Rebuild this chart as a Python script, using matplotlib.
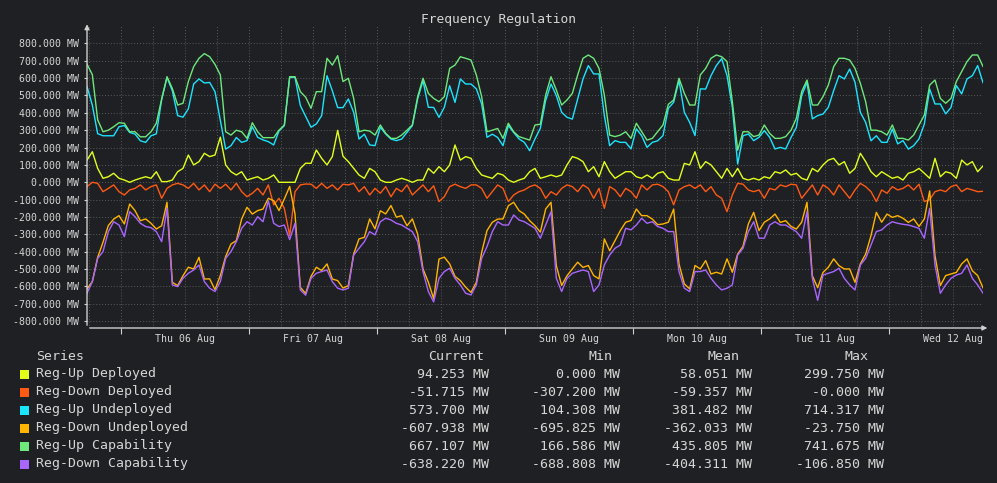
import numpy as np
import pandas as pd
import matplotlib
matplotlib.use("Agg")
import matplotlib.pyplot as plt
from matplotlib.patches import Rectangle

# hourly readings, Wed 05 Aug 17:37 -> Wed 12 Aug 17:37 (MW)
start = "2020-08-05 17:37"

reg_up_deployed = [
    128, 176, 80, 23, 32, 52, 23, 13, 0, 13,
    23, 32, 23, 61, 4, 4, 13, 61, 80, 157,
    100, 119, 167, 148, 157, 260, 100, 61, 42, 61,
    13, 23, 32, 13, 23, 42, 0, 0, 0, 0,
    80, 110, 109, 186, 138, 100, 148, 299, 150, 119,
    80, 42, 23, 80, 61, 13, 0, 0, 13, 23,
    13, 0, 13, 13, 80, 52, 90, 61, 100, 215,
    128, 148, 138, 80, 42, 32, 23, 52, 42, 13,
    0, 13, 23, 61, 80, 23, 32, 42, 32, 42,
    100, 148, 138, 119, 61, 90, 32, 119, 61, 23,
    42, 61, 61, 32, 23, 42, 23, 52, 61, 23,
    13, 13, 109, 100, 176, 80, 119, 100, 61, 23,
    80, 32, 80, 23, 13, 23, 13, 32, 23, 61,
    52, 71, 42, 52, 23, 13, 80, 61, 100, 128,
    138, 100, 119, 52, 80, 167, 119, 61, 32, 61,
    42, 23, 32, 13, 52, 61, 80, 52, 23, 138,
    32, 61, 52, 23, 128, 100, 119, 61, 94.253]

reg_down_deployed = [
    -25, -0.0, -6, -54, -35, -15, -54, -73, -44, -35,
    -15, -44, -25, -15, -92, -35, -15, -6, -15, -35,
    -6, -44, -15, -54, -11, -35, -11, -44, -6, -54,
    -83, -63, -35, -73, -15, -130, -92, -150, -307, -54,
    -15, -10, -11, -35, -6, -35, -15, -44, -11, -15,
    -6, -54, -25, -73, -35, -63, -25, -83, -35, -54,
    -15, -73, -44, -15, -54, -20, -111, -83, -25, -11,
    -25, -35, -15, -15, -35, -92, -54, -15, -35, -111,
    -73, -54, -44, -25, -15, -35, -92, -54, -73, -35,
    -15, -25, -54, -15, -35, -92, -35, -150, -25, -44,
    -83, -35, -54, -92, -15, -44, -15, -11, -25, -54,
    -130, -44, -25, -15, -35, -15, -54, -25, -73, -92,
    -169, -73, -6, -11, -44, -54, -44, -92, -35, -44,
    -15, -25, -11, -15, -92, -54, -15, -73, -15, -35,
    -73, -15, -54, -92, -44, -6, -25, -54, -111, -44,
    -63, -25, -44, -35, -15, -44, -11, -111, -100, -54,
    -44, -54, -25, -15, -54, -35, -44, -54, -51.715]

reg_up_undeployed = [
    552, 444, 280, 268, 268, 268, 320, 327, 287, 278,
    239, 230, 268, 279, 476, 604, 527, 384, 375, 423,
    566, 595, 572, 575, 522, 358, 191, 211, 258, 230,
    240, 320, 259, 244, 234, 215, 296, 326, 604, 604,
    442, 380, 317, 336, 384, 614, 527, 430, 430, 480,
    403, 249, 277, 215, 211, 317, 278, 249, 240, 249,
    287, 326, 480, 586, 432, 431, 374, 432, 556, 460,
    595, 566, 566, 538, 451, 259, 277, 258, 211, 327,
    287, 250, 230, 182, 250, 311, 471, 566, 499, 403,
    374, 364, 480, 595, 672, 624, 624, 384, 211, 240,
    230, 230, 192, 308, 268, 201, 230, 239, 269, 426,
    461, 586, 403, 345, 269, 538, 537, 614, 672, 712,
    615, 432, 105, 268, 278, 240, 259, 298, 259, 192,
    201, 192, 258, 316, 499, 576, 365, 384, 393, 432,
    528, 614, 595, 652, 576, 403, 345, 239, 268, 230,
    230, 307, 221, 240, 191, 211, 250, 335, 537, 451,
    451, 394, 431, 557, 509, 595, 614, 672, 573.7]

reg_down_undeployed = [
    -614, -572, -432, -345, -249, -212, -192, -240, -125, -163,
    -221, -211, -236, -269, -250, -115, -576, -595, -538, -489,
    -499, -432, -557, -556, -618, -537, -427, -355, -336, -211,
    -144, -183, -163, -154, -92, -106, -163, -96, -24, -182,
    -605, -640, -542, -489, -508, -470, -557, -566, -609, -595,
    -413, -326, -317, -211, -268, -164, -182, -134, -201, -192,
    -250, -211, -298, -499, -575, -670, -442, -431, -470, -542,
    -566, -604, -634, -576, -403, -278, -230, -212, -211, -135,
    -115, -163, -183, -221, -250, -287, -154, -115, -480, -594,
    -538, -499, -460, -490, -479, -537, -556, -326, -394, -336,
    -278, -230, -220, -154, -192, -192, -212, -244, -240, -230,
    -154, -470, -585, -614, -479, -499, -451, -528, -518, -528,
    -441, -518, -413, -369, -240, -173, -278, -230, -211, -183,
    -231, -221, -254, -269, -230, -115, -538, -607, -519, -489,
    -441, -480, -499, -499, -576, -470, -413, -307, -173, -230,
    -183, -202, -192, -207, -231, -211, -254, -211, -50, -422,
    -595, -537, -528, -519, -470, -441, -509, -537, -607.938]

reg_up_capability = [
    680, 620, 360, 291, 300, 320, 343, 340, 291, 291,
    262, 262, 291, 340, 480, 608, 540, 445, 455, 580,
    666, 714, 741, 723, 679, 618, 291, 272, 300, 291,
    253, 343, 291, 257, 257, 257, 300, 330, 608, 608,
    522, 490, 426, 522, 522, 714, 675, 729, 580, 599,
    483, 291, 300, 295, 272, 330, 282, 253, 253, 272,
    300, 330, 493, 599, 512, 483, 464, 493, 656, 675,
    723, 714, 704, 618, 493, 291, 300, 310, 253, 340,
    291, 263, 253, 243, 330, 334, 503, 608, 531, 445,
    474, 512, 618, 714, 733, 714, 656, 503, 272, 263,
    272, 291, 253, 340, 291, 243, 253, 291, 330, 449,
    474, 599, 512, 445, 445, 618, 656, 714, 733, 723,
    695, 464, 185, 291, 291, 263, 272, 330, 282, 253,
    253, 263, 300, 368, 522, 589, 445, 445, 493, 560,
    666, 714, 714, 704, 656, 570, 464, 300, 300, 291,
    272, 330, 253, 253, 243, 272, 330, 387, 560, 589,
    483, 455, 483, 580, 637, 695, 733, 733, 667.107]

reg_down_capability = [
    -639, -572, -438, -399, -284, -227, -246, -313, -169, -198,
    -236, -255, -261, -284, -342, -150, -591, -601, -553, -524,
    -505, -476, -572, -610, -629, -572, -438, -399, -342, -265,
    -227, -246, -198, -227, -107, -236, -255, -246, -330, -236,
    -620, -650, -553, -524, -514, -505, -572, -610, -620, -610,
    -419, -380, -342, -284, -303, -227, -207, -217, -236, -246,
    -265, -284, -342, -514, -629, -689, -553, -514, -495, -553,
    -591, -639, -649, -591, -438, -370, -284, -227, -246, -246,
    -188, -217, -227, -246, -265, -322, -246, -169, -553, -629,
    -553, -524, -514, -505, -514, -629, -591, -476, -419, -380,
    -361, -265, -274, -246, -207, -236, -227, -255, -265, -284,
    -284, -514, -610, -629, -514, -514, -505, -553, -591, -620,
    -610, -591, -419, -380, -284, -227, -322, -322, -246, -227,
    -246, -246, -265, -284, -322, -169, -553, -680, -534, -524,
    -514, -495, -553, -591, -620, -476, -438, -361, -284, -274,
    -246, -227, -236, -242, -246, -255, -265, -322, -150, -476,
    -639, -591, -553, -534, -524, -476, -553, -591, -638.22]

series_names = ["Reg-Up Deployed", "Reg-Down Deployed", "Reg-Up Undeployed",
                "Reg-Down Undeployed", "Reg-Up Capability", "Reg-Down Capability"]
series_colors = ["#e2ff1c", "#ff5a14", "#1ae4ff", "#ffb400", "#6ee87c", "#a966ff"]
stat_current = [94.253, -51.715, 573.700, -607.938, 667.107, -638.220]
stat_min = [0.000, -307.200, 104.308, -695.825, 166.586, -688.808]
stat_mean = [58.051, -59.357, 381.482, -362.033, 435.805, -404.311]
stat_max = [299.750, -0.000, 714.317, -23.750, 741.675, -106.850]

BG = "#1f2023"
FG = "#d6d6d6"
W, H = 997, 483

plt.rcParams["font.family"] = ["DejaVu Sans Mono"]

times = pd.date_range(start, periods=len(reg_up_deployed), freq="h")
all_series = [reg_up_deployed, reg_down_deployed, reg_up_undeployed,
              reg_down_undeployed, reg_up_capability, reg_down_capability]

fig = plt.figure(figsize=(W / 100, H / 100), dpi=100, facecolor=BG)
ax = fig.add_axes([87 / W, (H - 328) / H, 896 / W, (328 - 26) / H])
ax.set_facecolor(BG)

t0 = pd.Timestamp(start)
t1 = t0 + pd.Timedelta(days=7)

# dotted grid: every 100 MW, every 6 hours
for v in range(-800, 801, 100):
    ax.axhline(v, color="#5a5a5a", lw=0.7, ls=(0, (1, 2)), zorder=0)
for t in pd.date_range("2020-08-05 18:00", t1, freq="6h"):
    ax.axvline(t, color="#5a5a5a", lw=0.7, ls=(0, (1, 2)), zorder=0)

for vals, col in zip(all_series, series_colors):
    ax.plot(times, vals, color=col, lw=1.0, zorder=2)

ax.set_xlim(t0, t1)
ax.set_ylim(-839, 900)

for s in ax.spines.values():
    s.set_visible(False)
ax.annotate("", xy=(0, 1.015), xytext=(0, 0), xycoords="axes fraction",
            arrowprops=dict(arrowstyle="-|>", color="#cfcfcf", lw=1, mutation_scale=7))
ax.annotate("", xy=(1.008, 0), xytext=(0, 0), xycoords="axes fraction",
            arrowprops=dict(arrowstyle="-|>", color="#cfcfcf", lw=1, mutation_scale=7))

yt = list(range(-800, 801, 100))
ax.set_yticks(yt)
ax.set_yticklabels([f"{v:.3f} MW" for v in yt])
ax.tick_params(axis="y", colors="#cfcfcf", labelcolor=FG, labelsize=7.1,
               length=2.5, width=0.8, pad=3)

midnights = pd.date_range("2020-08-06", "2020-08-12", freq="D")
noons = midnights + pd.Timedelta(hours=12)
ax.set_xticks(midnights)
ax.set_xticklabels([""] * len(midnights))
ax.set_xticks(noons, minor=True)
ax.set_xticklabels([t.strftime("%a %d %b") for t in noons], minor=True)
ax.tick_params(axis="x", which="major", colors="#cfcfcf", length=4, width=0.8)
ax.tick_params(axis="x", which="minor", length=0, labelcolor=FG, labelsize=7.1, pad=4)

fig.text(0.5, 1 - 19 / H, "Frequency Regulation", ha="center", va="center",
         color=FG, fontsize=9.3)

# legend table
def fy(y):
    return 1 - y / H

fs = 9.5
fig.text(36 / W, fy(356), "Series", ha="left", va="center", color=FG, fontsize=fs)
for hx, lab in [(484, "Current"), (612, "Min"), (739, "Mean"), (868, "Max")]:
    fig.text(hx / W, fy(356), lab, ha="right", va="center", color=FG, fontsize=fs)

for i, name in enumerate(series_names):
    y = 374 + 18 * i
    fig.add_artist(Rectangle((20 / W, fy(y + 4.5)), 9 / W, 9 / H,
                             transform=fig.transFigure, color=series_colors[i], lw=0))
    fig.text(36 / W, fy(y), name, ha="left", va="center", color=FG, fontsize=fs)
    for cx, vals in [(489, stat_current), (620, stat_min), (752, stat_mean), (884, stat_max)]:
        fig.text(cx / W, fy(y), f"{vals[i]:.3f} MW", ha="right", va="center",
                 color=FG, fontsize=fs)

fig.savefig("out.png", dpi=100, facecolor=BG)
